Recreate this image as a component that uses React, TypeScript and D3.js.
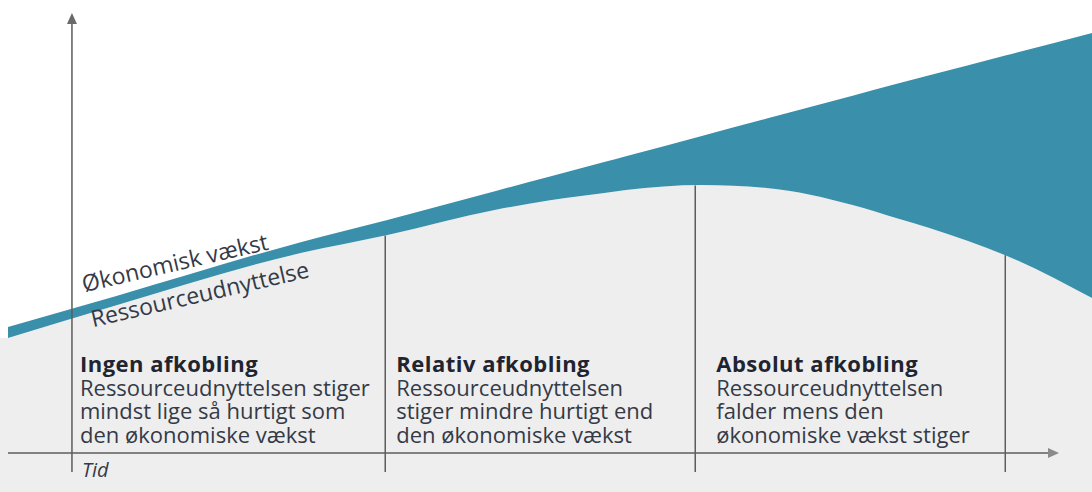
import React from 'react';
import * as d3 from 'd3';

// time (0-100) and index values
const growthT = [0, 10, 27, 35, 55, 82, 100];
const growthV = [30.0, 37.4, 50.2, 55.5, 69.3, 87.9, 100];

const resourceT = [0, 10, 27, 35, 45, 50, 57, 64, 70, 78, 85, 92, 100];
const resourceV = [27.4, 35.2, 47.6, 51.9, 57.9, 60.2, 62.6, 63.8, 63.1, 59.0, 53.6, 47.1, 36.9];

// y axis position followed by the three phase dividers
const phaseBounds = [5.9, 34.8, 63.4, 92.0];

const phaseTitles = ['Ingen afkobling', 'Relativ afkobling', 'Absolut afkobling'];
const phaseLines = [
  ['Ressourceudnyttelsen stiger', 'mindst lige så hurtigt som', 'den økonomiske vækst'],
  ['Ressourceudnyttelsen', 'stiger mindre hurtigt end', 'den økonomiske vækst'],
  ['Ressourceudnyttelsen', 'falder mens den', 'økonomiske vækst stiger'],
];

const seriesLabels = ['Økonomisk vækst', 'Ressourceudnyttelse'];
const axisLabel = 'Tid';

const width = 1092;
const height = 492;

export default function App() {
  const x = d3.scaleLinear().domain([0, 100]).range([8, width]);
  const y = d3.scaleLinear().domain([0, 100]).range([453, 33]);

  const growthAt = d3.scaleLinear().domain(growthT).range(growthV);
  const resourceAt = d3.scaleLinear().domain(resourceT).range(resourceV);

  // union of both time grids so the band follows both edges
  const ts = Array.from(new Set([...growthT, ...resourceT])).sort((a, b) => a - b);
  const rows = ts.map(t => ({ t, r: resourceAt(t), g: growthAt(t) }));

  // band between economic growth and resource use
  const band = d3.area<any>()
    .x(d => x(d.t))
    .y0(d => y(d.r))
    .y1(d => y(d.g))
    .curve(d3.curveMonotoneX);

  // everything under the resource curve
  const under = d3.area<any>()
    .x(d => x(d.t))
    .y0(height)
    .y1(d => y(d.r))
    .curve(d3.curveMonotoneX);

  const axisX = x(phaseBounds[0]);
  const axisY = y(0);
  const lineColor = '#5c5c5c';
  const textColor = '#353a47';
  const font = '"Open Sans", "DejaVu Sans", sans-serif';

  const angle = -13;

  const labelGrowthX = 84;
  const labelGrowthY = y(growthAt(x.invert(labelGrowthX))) - 13;
  const labelResX = 93;
  const labelResY = y(resourceAt(x.invert(labelResX))) + 15;

  const labelOffsets = [8, 11, 21];
  const lineGap = 23.5;

  return (
    <svg width={width} height={height} style={{ position: 'absolute', left: 0, top: 0, background: '#fff' }}
      fontFamily={font}>
      <rect x={0} y={y(resourceV[0])} width={8} height={height - y(resourceV[0])} fill="#eeeeee" />
      <path d={under(rows) as string} fill="#eeeeee" />
      <path d={band(rows) as string} fill="#3a8fab" />

      {/* phase dividers */}
      {phaseBounds.slice(1).map((t, i) => (
        <line key={i} x1={x(t)} x2={x(t)} y1={y(resourceAt(t))} y2={472}
          stroke={lineColor} strokeWidth={1.5} />
      ))}

      {/* axes */}
      <line x1={axisX} x2={axisX} y1={22} y2={472} stroke={lineColor} strokeWidth={1.5} />
      <path d={`M${axisX - 5},${24} L${axisX},${13} L${axisX + 5},${24} Z`} fill="#6a6a6a" />
      <line x1={8} x2={1050} y1={axisY} y2={axisY} stroke={lineColor} strokeWidth={1.5} />
      <path d={`M${1048},${axisY - 5} L${1059},${axisY} L${1048},${axisY + 5} Z`} fill="#8a8a8a" />

      <text x={axisX + 10} y={477} fontSize={20} fontStyle="italic" fill={textColor}>{axisLabel}</text>

      {/* series labels along the line */}
      <text x={labelGrowthX} y={labelGrowthY} fontSize={23} fill={textColor}
        transform={`rotate(${angle}, ${labelGrowthX}, ${labelGrowthY})`}>{seriesLabels[0]}</text>
      <text x={labelResX} y={labelResY} fontSize={23} fill={textColor}
        transform={`rotate(${angle}, ${labelResX}, ${labelResY})`}>{seriesLabels[1]}</text>

      {/* phase descriptions */}
      {phaseTitles.map((title, i) => {
        const tx = x(phaseBounds[i]) + labelOffsets[i];
        return (
          <g key={title}>
            <text x={tx} y={372} fontSize={22} fontWeight="bold" letterSpacing={0.5} fill="#1f2430">{title}</text>
            {phaseLines[i].map((line, j) => (
              <text key={j} x={tx} y={372 + lineGap * (j + 1)} fontSize={22} fill={textColor}>{line}</text>
            ))}
          </g>
        );
      })}
    </svg>
  );
}
